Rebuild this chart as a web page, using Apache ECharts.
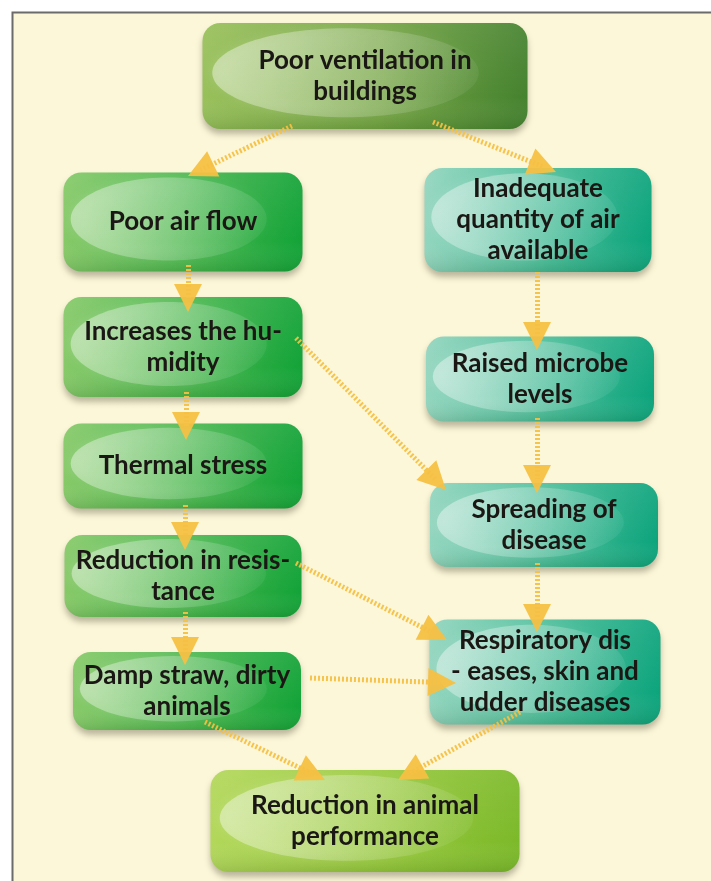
<!DOCTYPE html>
<html>
<head>
<meta charset="utf-8">
<script src="https://cdn.jsdelivr.net/npm/echarts@6/dist/echarts.min.js"></script>
<style>
  html, body { margin: 0; padding: 0; background: #fff; }
  #chart { width: 711px; height: 881px; }
</style>
</head>
<body>
<div id="chart"></div>
<script>
// flowchart content
const labels = [
  'Poor ventilation in\nbuildings',
  'Poor air flow',
  'Inadequate\nquantity of air\navailable',
  'Increases the hu-\nmidity',
  'Raised microbe\nlevels',
  'Thermal stress',
  'Spreading of\ndisease',
  'Reduction in resis-\ntance',
  'Respiratory dis\n- eases, skin and\nudder diseases',
  'Damp straw, dirty\nanimals',
  'Reduction in animal\nperformance'
];
const kinds = ['top', 'left', 'right', 'left', 'right', 'left', 'right', 'left', 'right', 'left', 'bottom'];
const links = [[0, 1], [0, 2], [1, 3], [2, 4], [3, 5], [3, 6], [4, 6], [5, 7], [7, 8], [6, 8], [7, 9], [9, 8], [9, 10], [8, 10]];

// layout in chart units: box centre and size, arrow start and tip
const boxLayout = [
  [365, 76, 325, 106],
  [183, 222, 239, 99],
  [538, 220, 227, 104],
  [183, 347, 239, 100],
  [540, 379, 228, 85],
  [183, 466, 239, 85],
  [544, 525, 228, 84],
  [183, 576, 237, 82],
  [545, 672, 231, 105],
  [187, 691, 228, 78],
  [365, 821, 309, 102]
];
const arrowLayout = [
  [292, 126, 188, 176],
  [433, 122, 556, 172],
  [188, 265, 188, 312],
  [537, 272, 537, 350],
  [186, 392, 186, 440],
  [296, 338, 446, 490],
  [537, 418, 537, 493],
  [185, 505, 185, 550],
  [296, 563, 447, 640],
  [537, 563, 537, 632],
  [185, 612, 185, 665],
  [310, 678, 456, 683],
  [205, 722, 325, 780],
  [520, 712, 398, 780]
];

const palette = {
  top: ['#98c05a', '#74a442', '#45822f'],
  left: ['#86c968', '#47b64c', '#13a338'],
  right: ['#92d5be', '#45bb96', '#0ca47c'],
  bottom: ['#b2d75a', '#98c93c', '#7cb92a']
};

const headSize = 28;

const boxData = labels.map((t, i) => ({
  name: t,
  value: boxLayout[i].concat([i])
}));

const arrowData = links.map((l, i) => {
  const [x1, y1, x2, y2] = arrowLayout[i];
  const len = Math.hypot(x2 - x1, y2 - y1);
  const ux = (x2 - x1) / len, uy = (y2 - y1) / len;
  return {
    name: labels[l[0]] + ' -> ' + labels[l[1]],
    coords: [[x1, y1], [x2 - ux * headSize / 2, y2 - uy * headSize / 2]]
  };
});

const chart = echarts.init(document.getElementById('chart'));

function renderBox(params, api) {
  const c = api.coord([api.value(0), api.value(1)]);
  const s = api.size([api.value(2), api.value(3)]);
  const idx = api.value(4);
  const col = palette[kinds[idx]];
  const w = s[0], h = s[1];
  const x = c[0] - w / 2, y = c[1] - h / 2;
  return {
    type: 'group',
    children: [
      {
        type: 'rect',
        shape: { x: x, y: y, width: w, height: h, r: 18 },
        style: {
          fill: new echarts.graphic.LinearGradient(0, 0, 1, 0, [
            { offset: 0, color: col[0] },
            { offset: 0.55, color: col[1] },
            { offset: 1, color: col[2] }
          ]),
          shadowBlur: 6,
          shadowOffsetY: 5,
          shadowColor: 'rgba(60,60,40,0.35)'
        }
      },
      {
        type: 'rect',
        shape: { x: x, y: y, width: w, height: h, r: 18 },
        style: {
          fill: new echarts.graphic.LinearGradient(0, 0, 0, 1, [
            { offset: 0, color: 'rgba(255,255,255,0.08)' },
            { offset: 0.7, color: 'rgba(255,255,255,0)' },
            { offset: 1, color: 'rgba(0,40,0,0.12)' }
          ])
        }
      },
      {
        type: 'ellipse',
        shape: { cx: c[0] - w * 0.06, cy: c[1] - h * 0.03, rx: w * 0.41, ry: h * 0.42 },
        style: {
          fill: new echarts.graphic.LinearGradient(0, 0, 1, 1, [
            { offset: 0, color: 'rgba(255,255,255,0.42)' },
            { offset: 1, color: 'rgba(255,255,255,0.04)' }
          ]),
          shadowBlur: 12,
          shadowColor: 'rgba(255,255,255,0.35)'
        }
      },
      {
        type: 'text',
        style: {
          x: c[0],
          y: c[1],
          text: labels[idx],
          align: 'center',
          verticalAlign: 'middle',
          fill: '#1a1714',
          font: 'bold 26px Lato',
          lineHeight: 31
        }
      }
    ]
  };
}

const option = {
  backgroundColor: '#ffffff',
  animation: false,
  graphic: [
    {
      type: 'rect',
      z: -10,
      shape: { x: 12.5, y: 12.5, width: 720, height: 900 },
      style: { fill: '#fdf7d9', stroke: '#6b6b6b', lineWidth: 2 }
    }
  ],
  grid: { left: 0, right: 0, top: 0, bottom: 0 },
  xAxis: { type: 'value', min: 0, max: 711, show: false },
  yAxis: { type: 'value', min: 0, max: 881, inverse: true, show: false },
  series: [
    {
      type: 'custom',
      coordinateSystem: 'cartesian2d',
      renderItem: renderBox,
      data: boxData,
      z: 2
    },
    {
      type: 'lines',
      coordinateSystem: 'cartesian2d',
      symbol: ['none', 'triangle'],
      symbolSize: headSize,
      lineStyle: {
        color: '#f5c043',
        width: 5,
        type: [2, 2],
        opacity: 0.95
      },
      itemStyle: { color: '#f5c043' },
      data: arrowData,
      z: 3
    }
  ]
};

chart.setOption(option);
</script>
</body>
</html>
